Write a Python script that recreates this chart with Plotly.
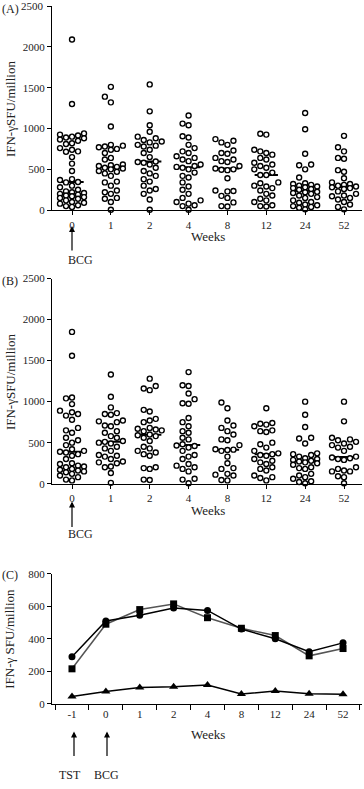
import numpy as np
import plotly.graph_objects as go

# ---------------- data ----------------
weeks_ab = ["0", "1", "2", "4", "8", "12", "24", "52"]
weeks_c = ["-1", "0", "1", "2", "4", "8", "12", "24", "52"]

a_w0 = [2090, 1300, 940, 925, 915, 900, 890, 880, 865, 850, 820, 810, 760, 740, 720, 715, 650, 570, 480,
        380, 370, 345, 340, 300, 280, 250, 230, 220, 210, 200, 190, 180, 170, 160, 150, 140, 120, 100, 90,
        80, 60, 50, 40]
a_w1 = [1510, 1390, 1320, 1025, 800, 790, 780, 770, 750, 740, 700, 640, 620, 560, 550, 540, 530, 520, 510,
        500, 480, 470, 450, 420, 350, 340, 300, 240, 220, 200, 150, 140, 100, 5]
a_w2 = [1540, 1210, 1040, 960, 900, 880, 860, 840, 830, 800, 790, 780, 740, 700, 650, 595, 590, 580, 560,
        520, 480, 450, 420, 380, 350, 300, 260, 240, 200, 130, 5]
a_w4 = [1160, 1060, 1040, 905, 890, 800, 760, 720, 700, 660, 640, 620, 600, 560, 540, 530, 520, 500, 460,
        420, 400, 340, 290, 250, 200, 150, 120, 100, 80, 60, 50, 5]
a_w8 = [870, 850, 830, 800, 730, 700, 690, 640, 620, 600, 590, 540, 510, 500, 495, 490, 390, 240, 235, 230,
        175, 150, 95, 50, 45]
a_w12 = [935, 925, 740, 720, 700, 680, 640, 620, 580, 560, 540, 520, 500, 460, 430, 430, 340, 330, 300, 290,
         270, 240, 200, 180, 140, 120, 100, 60, 50, 45]
a_w24 = [1190, 990, 690, 560, 550, 500, 400, 330, 320, 310, 300, 290, 280, 270, 260, 250, 225, 220, 210, 200,
         180, 160, 150, 120, 100, 90, 70, 60, 50, 40, 30, 10]
a_w52 = [910, 770, 720, 640, 630, 490, 470, 390, 340, 320, 310, 300, 290, 280, 270, 260, 230, 200, 180, 170,
         150, 130, 100, 70, 40, 10]

b_w0 = [1850, 1560, 1050, 1040, 970, 890, 870, 850, 830, 780, 680, 650, 620, 560, 530, 500, 470, 420, 400,
        390, 380, 360, 340, 300, 250, 240, 220, 210, 200, 180, 170, 160, 150, 140, 120, 100, 80, 50, 40]
b_w1 = [1330, 1060, 930, 860, 850, 840, 770, 760, 750, 710, 700, 640, 620, 580, 560, 520, 510, 500, 490, 450,
        430, 400, 350, 340, 330, 300, 270, 260, 250, 210, 200, 130, 10]
b_w2 = [1280, 1190, 1160, 1140, 900, 880, 790, 770, 750, 680, 670, 660, 650, 640, 600, 590, 580, 560, 520,
        450, 430, 400, 380, 360, 340, 200, 190, 180, 50, 45]
b_w4 = [1360, 1200, 1190, 1100, 1030, 980, 975, 800, 750, 700, 640, 620, 560, 540, 480, 465, 460, 440, 400,
        350, 330, 300, 240, 220, 200, 180, 150, 60, 50, 5]
b_w8 = [990, 920, 770, 710, 680, 640, 600, 540, 530, 470, 420, 415, 410, 400, 330, 250, 190, 180, 120, 110,
        100, 45, 40]
b_w12 = [920, 740, 730, 720, 700, 650, 640, 630, 500, 480, 440, 400, 370, 360, 350, 340, 300, 280, 260, 240,
         200, 180, 160, 100, 80, 70, 40]
b_w24 = [1000, 840, 690, 560, 550, 490, 370, 360, 350, 330, 310, 300, 290, 280, 270, 260, 250, 230, 200, 190,
         180, 120, 100, 80, 60, 30, 20, 5]
b_w52 = [1000, 760, 560, 540, 530, 510, 490, 470, 450, 440, 400, 330, 320, 310, 300, 290, 200, 180, 160, 150,
         150, 90, 80, 5]

panel_a = [a_w0, a_w1, a_w2, a_w4, a_w8, a_w12, a_w24, a_w52]
panel_b = [b_w0, b_w1, b_w2, b_w4, b_w8, b_w12, b_w24, b_w52]

c_circle = [290, 510, 545, 590, 575, 460, 400, 320, 375]
c_square = [215, 490, 580, 615, 530, 465, 420, 295, 340]
c_triangle = [45, 75, 100, 105, 115, 60, 78, 62, 58]

y_ticks_ab = [0, 500, 1000, 1500, 2000, 2500]
y_ticks_c = [0, 200, 400, 600, 800]

# ---------------- layout geometry ----------------
W, H = 364, 789
ML, MR, MT, MB = 52, 2, 5, 0
PW, PH = W - ML - MR, H - MT - MB


def px_x(p):
    return (p - ML) / PW


def px_y(p):
    return 1 - (p - MT) / PH


FONT = "Liberation Serif"
AB_RANGE = [-0.515, 7.463]
C_RANGE = [-0.59, 8.56]
Y_AB = 2500
dom_a = [px_y(211), px_y(5)]
dom_b = [px_y(487), px_y(280)]
dom_c = [px_y(709), px_y(578)]


def swarm(vals, px_per_unit, px_per_cat, col_px=6.0, diam_px=5.8):
    vals = np.asarray(vals, float)
    order = np.argsort(vals)
    placed = []
    offs = np.zeros(len(vals))
    cands = [0, -1, 1, -2, 2]
    for i in order:
        y = vals[i] * px_per_unit
        chosen = None
        for k in cands:
            if all(not (pk == k and abs(py - y) < diam_px) for pk, py in placed):
                chosen = k
                break
        if chosen is None:
            best, bestd = 0, -1
            for k in cands:
                d = min([abs(py - y) for pk, py in placed if pk == k] or [1e9])
                if d > bestd:
                    best, bestd = k, d
            chosen = best
        placed.append((chosen, y))
        offs[i] = chosen * col_px / px_per_cat
    return offs


fig = go.Figure()

px_per_cat_ab = PW / (AB_RANGE[1] - AB_RANGE[0])
for panel, xa, ya, dom in [(panel_a, "x", "y", dom_a), (panel_b, "x2", "y2", dom_b)]:
    px_per_unit = (dom[1] - dom[0]) * PH / Y_AB
    xs, ys = [], []
    mx, my = [], []
    for i, vals in enumerate(panel):
        offs = swarm(vals, px_per_unit, px_per_cat_ab)
        xs += list(i + offs)
        ys += list(vals)
        med = float(np.median(vals))
        mx += [i - 0.30, i + 0.30, None]
        my += [med, med, None]
    fig.add_trace(go.Scatter(x=mx, y=my, mode="lines", xaxis=xa, yaxis=ya,
                             line=dict(color="black", width=2), hoverinfo="skip",
                             showlegend=False, cliponaxis=False))
    fig.add_trace(go.Scatter(x=xs, y=ys, mode="markers", xaxis=xa, yaxis=ya,
                             marker=dict(symbol="circle", size=5, color="white",
                                         line=dict(color="black", width=1.4)),
                             showlegend=False, cliponaxis=False))

xc = list(range(len(weeks_c)))
fig.add_trace(go.Scatter(x=xc, y=c_square, mode="lines+markers", xaxis="x3", yaxis="y3",
                         line=dict(color="#555555", width=1.5),
                         marker=dict(symbol="square", size=7, color="black"),
                         showlegend=False, cliponaxis=False))
fig.add_trace(go.Scatter(x=xc, y=c_circle, mode="lines+markers", xaxis="x3", yaxis="y3",
                         line=dict(color="black", width=1.5),
                         marker=dict(symbol="circle", size=7, color="black"),
                         showlegend=False, cliponaxis=False))
fig.add_trace(go.Scatter(x=xc, y=c_triangle, mode="lines+markers", xaxis="x3", yaxis="y3",
                         line=dict(color="black", width=1.5),
                         marker=dict(symbol="triangle-up", size=8, color="black"),
                         showlegend=False, cliponaxis=False))

tickfont = dict(family=FONT, size=11, color="#222222")
axis_common = dict(showline=True, linecolor="black", linewidth=1.3, showgrid=False,
                   zeroline=False, tickfont=tickfont, tickcolor="black", tickwidth=1)

# panel A's top label sits at the figure edge, where plotly drops it; draw it as text instead
ticktext_a = [str(v) for v in y_ticks_ab[:-1]] + [""]

fig.update_layout(
    width=W, height=H,
    margin=dict(l=ML, r=MR, t=MT, b=MB, pad=0),
    paper_bgcolor="white", plot_bgcolor="white",
    showlegend=False,
    xaxis=dict(domain=[0, 1], anchor="y", range=AB_RANGE, tickmode="array",
               tickvals=list(range(len(weeks_ab))), ticktext=weeks_ab,
               ticks="outside", ticklen=4, **axis_common),
    yaxis=dict(domain=dom_a, anchor="x", range=[0, Y_AB], tickmode="array",
               tickvals=y_ticks_ab, ticktext=ticktext_a, ticks="outside", ticklen=4, **axis_common),
    xaxis2=dict(domain=[0, 1], anchor="y2", range=AB_RANGE, tickmode="array",
                tickvals=list(range(len(weeks_ab))), ticktext=weeks_ab,
                ticks="outside", ticklen=4, **axis_common),
    yaxis2=dict(domain=dom_b, anchor="x2", range=[0, Y_AB], tickmode="array",
                tickvals=y_ticks_ab, ticks="outside", ticklen=4, **axis_common),
    xaxis3=dict(domain=[0, 1], anchor="y3", range=C_RANGE, tickmode="array",
                tickvals=xc, ticktext=weeks_c, ticks="", ticklen=5,
                minor=dict(ticks="outside", ticklen=5, tickmode="linear", tick0=0.5, dtick=1,
                           tickcolor="black", tickwidth=1, showgrid=False),
                **axis_common),
    yaxis3=dict(domain=dom_c, anchor="x3", range=[0, 800], tickmode="array",
                tickvals=y_ticks_c, ticks="outside", ticklen=4, **axis_common),
)

lab_font = dict(family=FONT, size=13, color="#222222")
ann = []
ann.append(dict(text=str(y_ticks_ab[-1]), xref="paper", yref="y", x=px_x(46), y=y_ticks_ab[-1],
                xanchor="right", yanchor="middle", showarrow=False, font=tickfont))
# panel labels
for txt, py in [("(A)", 8), ("(B)", 282), ("(C)", 579)]:
    ann.append(dict(text=txt, xref="paper", yref="paper", x=px_x(0), y=px_y(py),
                    xanchor="left", yanchor="middle", showarrow=False,
                    font=dict(family=FONT, size=12, color="#222222")))
# y titles
for txt, dom in [("IFN-γSFU/million", dom_a), ("IFN-γSFU/million", dom_b), ("IFN-γ SFU/million", dom_c)]:
    ann.append(dict(text=txt, xref="paper", yref="paper", x=px_x(10), y=(dom[0] + dom[1]) / 2,
                    xanchor="center", yanchor="middle", textangle=-90, showarrow=False, font=lab_font))
# x titles
for py in [238, 514, 740]:
    ann.append(dict(text="Weeks", xref="paper", yref="paper", x=px_x(208), y=px_y(py),
                    xanchor="center", yanchor="middle", showarrow=False, font=lab_font))
# arrows
arrow = dict(text="", showarrow=True, arrowhead=2, arrowsize=1, arrowwidth=1.2,
             arrowcolor="black", ax=0, standoff=0, startstandoff=0)
ann.append(dict(xref="paper", yref="paper", x=px_x(72), y=px_y(227), ay=26, **arrow))
ann.append(dict(xref="paper", yref="paper", x=px_x(72), y=px_y(505), ay=27, **arrow))
ann.append(dict(xref="paper", yref="paper", x=px_x(74), y=px_y(737), ay=26, **arrow))
ann.append(dict(xref="paper", yref="paper", x=px_x(107), y=px_y(737), ay=26, **arrow))
small = dict(family=FONT, size=12, color="#222222")
for txt, px, py in [("BCG", 80, 261), ("BCG", 80, 538), ("TST", 70, 781), ("BCG", 106, 781)]:
    ann.append(dict(text=txt, xref="paper", yref="paper", x=px_x(px), y=px_y(py),
                    xanchor="center", yanchor="middle", showarrow=False, font=small))

fig.update_layout(annotations=ann)
fig.write_html("out.html", config={"displayModeBar": False},
               post_script="document.body.style.margin='0';document.body.style.padding='0';")
